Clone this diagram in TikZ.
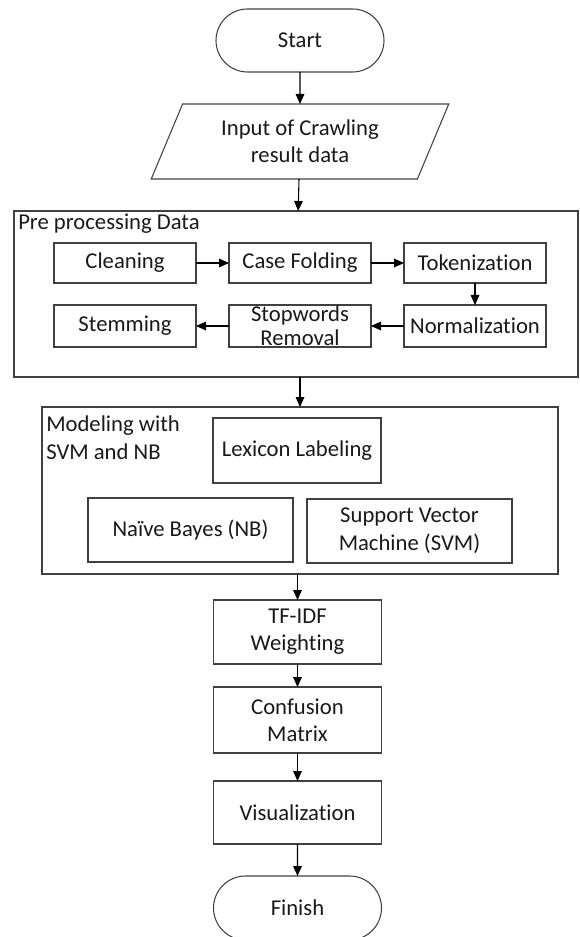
\documentclass[tikz,border=0pt]{standalone}
\usepackage{fontspec}
\setmainfont{Carlito}[Ligatures=NoCommon]
\usetikzlibrary{shapes.geometric,shapes.misc,arrows.meta}

\begin{document}
\begin{tikzpicture}[x=0.75pt,y=-0.75pt]
        \tikzset{
            base/.style={draw=black!75, line width=0.8pt, text=black!90, align=center,
                inner sep=0pt, outer sep=0pt, font=\fontsize{17}{20}\selectfont},
            term/.style={base, rounded rectangle, minimum width=126pt, minimum height=47.25pt},
            io/.style={base, trapezium, trapezium left angle=63.7, trapezium right angle=116.3,
                trapezium stretches=true, minimum width=223.5pt, minimum height=56.25pt},
            group/.style={base, rectangle},
            group_title/.style={text=black!90, inner sep=0pt, align=left, font=\fontsize{17}{21}\selectfont},
            step_box/.style={base, rectangle, minimum width=106.5pt, minimum height=30pt},
            step_box_low/.style={base, rectangle, minimum width=106.5pt, minimum height=31.5pt},
            proc/.style={base, rectangle, minimum width=126pt},
            model_box/.style={base, rectangle, minimum width=153.75pt, minimum height=48pt,
                font=\fontsize{17}{21}\selectfont},
            flow/.style={draw=black, line width=0.8pt, -{Triangle[length=7.5pt,width=6.5pt]}}
        }
        \useasboundingbox (0,0) rectangle (579,937);

        \node[term] (start) at (300,40.5) {Start};
        \node[io] (input) at (300,141.5) {Input of Crawling\\result data};

        % pre processing
        \node[group, minimum width=423pt, minimum height=124.5pt] (pre) at (296,294) {};
        \node[group_title, anchor=base west] (pre_title) at (18,229.5) {Pre processing Data};

        \node[step_box] (cleaning) at (125,263) {Cleaning};
        \node[step_box] (casefold) at (300,263) {Case Folding};
        \node[step_box] (token) at (475,263) {Tokenization};
        \node[step_box_low] (stem) at (125,326) {Stemming};
        \node[step_box_low, font=\fontsize{17}{18}\selectfont] (stop) at (300,326) {Stopwords\\Removal};
        \node[step_box_low] (norm) at (475,326) {Normalization};

        \draw[flow] (cleaning) -- (casefold);
        \draw[flow] (casefold) -- (token);
        \draw[flow] (token) -- (norm);
        \draw[flow] (norm) -- (stop);
        \draw[flow] (stop) -- (stem);

        % modeling
        \node[group, minimum width=387pt, minimum height=125.25pt] (model) at (300,490.5) {};
        \node[group_title, anchor=north west] (model_title) at (46,415) {Modeling with\\SVM and NB};

        \node[proc, minimum height=48.75pt] (lexicon) at (297,450.5) {Lexicon Labeling};
        \node[model_box] (nb) at (190.5,530) {Naïve Bayes (NB)};
        \node[model_box] (svm) at (409.5,531) {Support Vector\\Machine (SVM)};

        \node[proc, minimum height=48pt] (tfidf) at (297.5,632) {TF-IDF\\Weighting};
        \node[proc, minimum height=49.5pt] (confusion) at (297.5,720) {Confusion\\Matrix};
        \node[proc, minimum height=47.25pt] (visual) at (297.5,812.5) {Visualization};
        \node[term, minimum height=48pt] (finish) at (297.5,908) {Finish};

        \draw[flow] (start) -- (input);
        \draw[flow] (input) -- (pre);
        \draw[flow] (model.north |- pre.south) -- (model.north);
        \draw[flow] (model.south -| tfidf.north) -- (tfidf);
        \draw[flow] (tfidf) -- (confusion);
        \draw[flow] (confusion) -- (visual);
        \draw[flow] (visual) -- (finish);
    \end{tikzpicture}
\end{document}
